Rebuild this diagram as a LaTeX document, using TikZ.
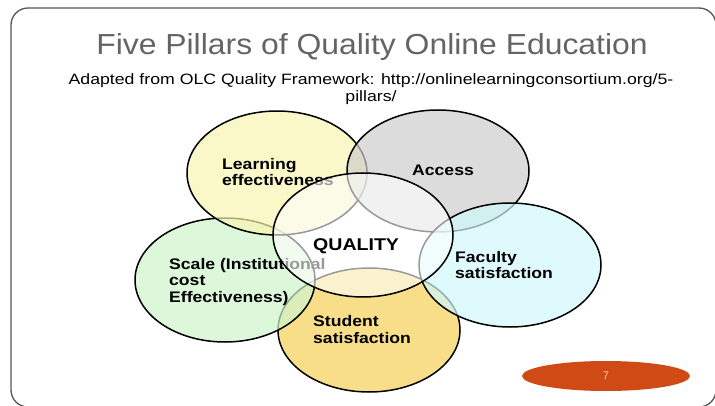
\documentclass[tikz,border=0pt]{standalone}
\usepackage{fontspec}
\setmainfont{Liberation Sans}
\newfontfamily\titlefont[FakeStretch=1.1]{Liberation Sans}
\newfontfamily\sourcefont[FakeStretch=1.18]{Liberation Sans}
\newfontfamily\pillarfont[FakeStretch=1.15]{Liberation Sans}

\definecolor{framegray}{RGB}{85,85,85}
\definecolor{titlegray}{RGB}{100,100,100}
\definecolor{learnfill}{RGB}{248,245,176}
\definecolor{accessfill}{RGB}{205,205,205}
\definecolor{facultyfill}{RGB}{208,248,251}
\definecolor{studentfill}{RGB}{246,208,88}
\definecolor{scalefill}{RGB}{206,244,204}
\definecolor{pagefill}{RGB}{208,74,22}
\definecolor{pagetext}{RGB}{245,205,185}

\begin{document}
\begin{tikzpicture}[x=1pt, y=-1pt,
    pillar/.style={draw=black, line width=1.5pt, fill opacity=0.7},
    lbl/.style={anchor=base west, inner sep=0pt, align=left,
        font=\pillarfont\bfseries\fontsize{15.3}{16.5}\selectfont}]
    \useasboundingbox (0,0) rectangle (715,406);

    % Slide frame
    \draw[framegray, line width=1.3pt, rounded corners=17pt] (11,8) rectangle (716,407);

    % Title and source line (base = last line)
    \node[anchor=base, inner sep=0pt, text=titlegray, font=\titlefont\fontsize{29}{34}\selectfont] (title) at (372,55)
        {Five Pillars of Quality Online Education};
    \node[anchor=base, inner sep=0pt, align=center, font=\sourcefont\fontsize{15}{17}\selectfont] (source) at (371,102)
        {Adapted from OLC Quality Framework: http://onlinelearningconsortium.org/5-\\pillars/};

    % Student satisfaction
    \filldraw[pillar, fill=studentfill] (369,330) ellipse (91pt and 62pt);
    \node[lbl] (student) at (313,343) {Student\\satisfaction};

    % Scale
    \filldraw[pillar, fill=scalefill] (225,280) ellipse (90pt and 62pt);
    \node[lbl] (scale) at (169,302) {Scale (Institutional\\cost\\Effectiveness)};

    % Learning effectiveness
    \filldraw[pillar, fill=learnfill] (277,173) ellipse (90pt and 62pt);
    \node[lbl] (learning) at (222,186) {Learning\\effectiveness};

    % Access
    \filldraw[pillar, fill=accessfill] (438,171) ellipse (91pt and 61pt);
    \node[lbl] (access) at (412,176) {Access};

    % Faculty satisfaction
    \filldraw[pillar, fill=facultyfill] (510,265) ellipse (91pt and 62pt);
    \node[lbl] (faculty) at (455,279) {Faculty\\satisfaction};

    % Quality in the middle, on top of the rest
    \filldraw[pillar, fill=white, fill opacity=0.6] (363,235) ellipse (90pt and 62pt);
    \node[lbl, font=\pillarfont\bfseries\fontsize{17}{18}\selectfont] (quality) at (313,251) {QUALITY};

    % Page number
    \fill[pagefill] (606,376) ellipse (84pt and 15pt);
    \node[text=pagetext, font=\fontsize{11}{13}\selectfont] (pagenum) at (606,376) {7};
\end{tikzpicture}
\end{document}
